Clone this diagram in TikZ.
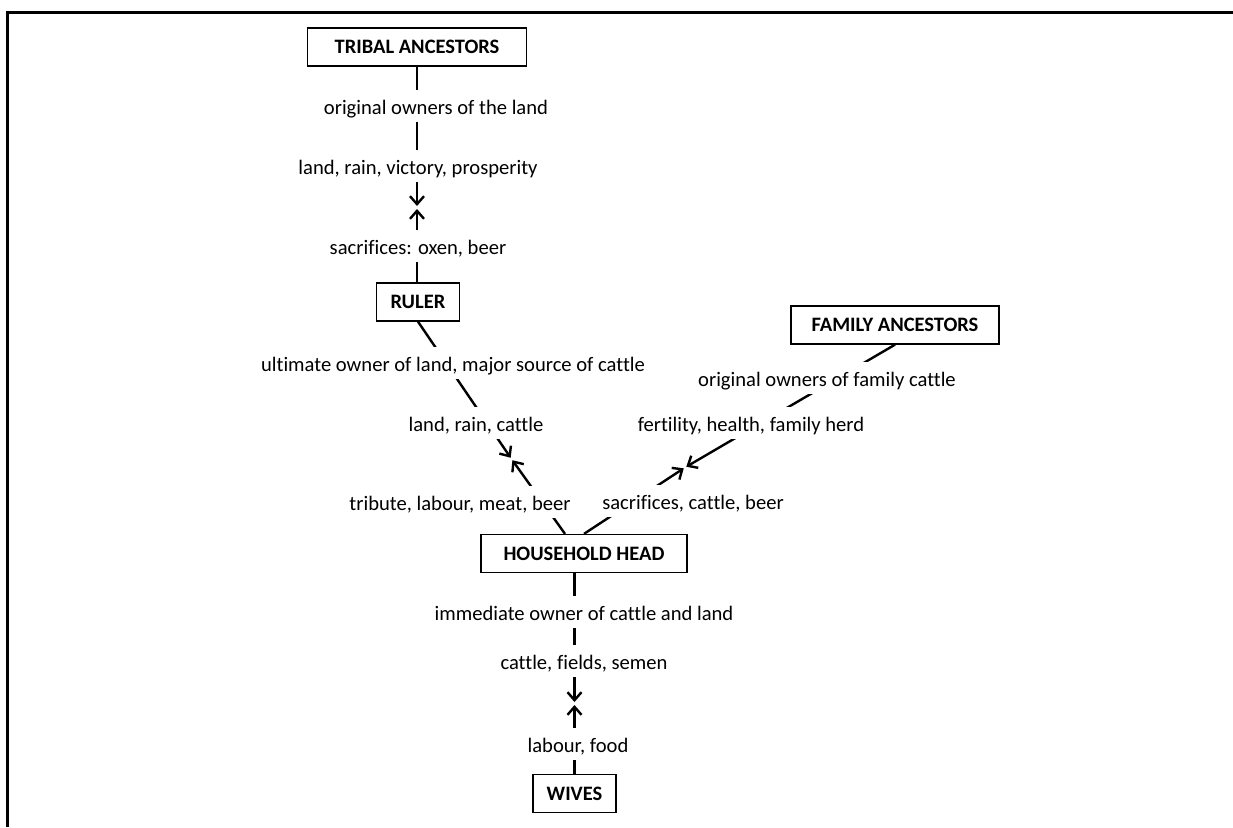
\documentclass[tikz,border=0pt]{standalone}
\usepackage{fontspec}
\setmainfont{Carlito}[Ligatures=NoCommon]
\usetikzlibrary{arrows.meta}
\tikzset{
  box/.style={draw=black,line width=1.3pt,fill=white,font=\fontsize{20.5}{24}\selectfont\bfseries,minimum height=38pt,inner sep=0pt},
  lbl/.style={fill=white,anchor=base,inner sep=0pt,text height=24pt,text depth=8pt},
  flow/.style={line width=2.4pt,shorten >=1.5pt,-{Straight Barb[length=8pt,width=14pt]}}
}
\begin{document}
\begin{tikzpicture}[x=1pt,y=-1pt,font=\fontsize{20.6}{24}\selectfont]
\useasboundingbox (0,0) rectangle (1233,827);
\draw[line width=3pt] (7.5,827)--(7.5,12)--(1233,12); %frame

%boxes
\node[box,minimum width=219pt] (tribal) at (417,47) {TRIBAL ANCESTORS};
\node[box,minimum width=83pt] (ruler) at (418,302) {RULER};
\node[box,minimum width=208pt] (family) at (895,325) {FAMILY ANCESTORS};
\node[box,minimum width=206pt] (head) at (584,553.5) {HOUSEHOLD HEAD};
\node[box,minimum width=83pt] (wives) at (574.5,793.5) {WIVES};

%meeting points of the arrows
\coordinate (tribMeet) at (417,207.5);
\coordinate (rulMeet) at (511.5,459);
\coordinate (famMeet) at (685,467.5);
\coordinate (wivMeet) at (574.5,703.5);
\coordinate (rulFoot) at ([xshift=-19pt]head.north);

%connectors, the labels cover them
\draw[flow] (tribal.south) -- (tribMeet);
\draw[flow] (ruler.north -| tribal) -- (tribMeet);
\draw[flow] (ruler.south) -- (rulMeet);
\draw[flow] (rulFoot) -- (rulMeet);
\draw[flow] (family.south) -- (famMeet);
\draw[flow] (head.north) -- (famMeet);
\draw[flow] (head.south -| wives) -- (wivMeet);
\draw[flow] (wives.north) -- (wivMeet);

%labels
\node[lbl] (tribOwn) at (436,114) {original owners of the land};
\node[lbl] (tribGift) at (418,174) {land, rain, victory, prosperity};
\node[lbl] (rulSac) at (418,254) {sacrifices: oxen, beer};
\node[lbl] (rulOwn) at (453,371) {ultimate owner of land, major source of cattle};
\node[lbl] (rulGift) at (476,431) {land, rain, cattle};
\node[lbl] (headTrib) at (460,510) {tribute, labour, meat, beer};
\node[lbl] (headSac) at (693,509) {sacrifices, cattle, beer};
\node[lbl] (famOwn) at (827,386) {original owners of family cattle};
\node[lbl] (famGift) at (751,431) {fertility, health, family herd};
\node[lbl] (headOwn) at (584,620) {immediate owner of cattle and land};
\node[lbl] (headGift) at (584,669) {cattle, fields, semen};
\node[lbl] (wivGift) at (578,752) {labour, food};

\end{tikzpicture}
\end{document}
